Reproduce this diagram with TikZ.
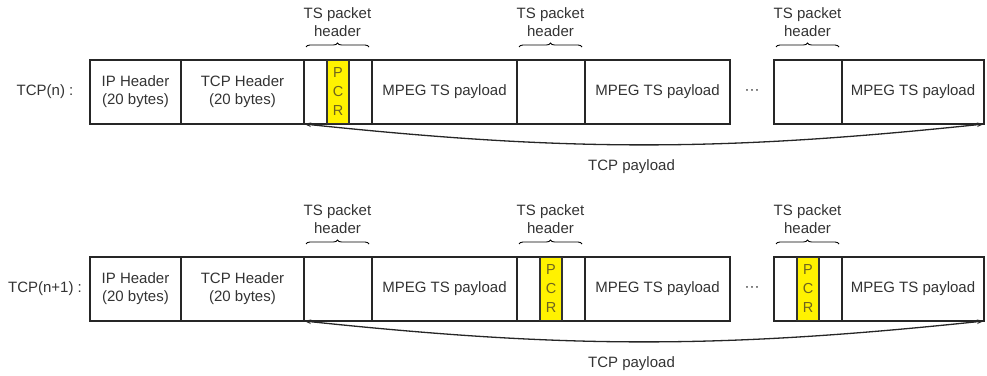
\documentclass[tikz,border=0pt]{standalone}
\usepackage{fontspec}
\setmainfont{Liberation Sans}
\usetikzlibrary{arrows.meta,positioning,calc,decorations.pathreplacing}
\definecolor{pcrtext}{RGB}{110,100,30}

\begin{document}
\begin{tikzpicture}[x=1pt, y=1pt, node distance=0pt,
    every node/.style={font=\fontsize{15}{18}\selectfont, text=black!80},
    cell/.style={draw=black!85, line width=1.5pt, outer sep=0pt, inner sep=0pt, minimum height=64pt, align=center},
    hdr/.style={cell, minimum width=68pt},
    pl/.style={cell, minimum width=145pt},
    pcr/.style={draw=black!80, fill=yellow, line width=1.5pt, inner sep=0pt, minimum width=22pt, minimum height=63pt,
                align=center, font=\fontsize{14.5}{19}\selectfont, text=pcrtext},
    brc/.style={decorate, decoration={brace, amplitude=4pt}, line width=.9pt},
    lbl/.style={align=center, inner sep=0pt},
    pay/.style={{Stealth[length=7pt,width=4.5pt]}-{Stealth[length=7pt,width=4.5pt]}, line width=1.3pt, draw=black!85}]
\useasboundingbox (0,0) rectangle (987,375);

% TCP(n)
\node (rowA) at (45,283) {TCP(n) :};
\node[cell, minimum width=91pt, anchor=west] (ipA) at (90,283) {IP Header\\(20 bytes)};
\node[cell, minimum width=123pt, right=of ipA] (tcpA) {TCP Header\\(20 bytes)};
\node[hdr, right=of tcpA] (tsA1) {};
\node[pl, right=of tsA1]  (plA1) {MPEG TS payload};
\node[hdr, right=of plA1] (tsA2) {};
\node[pl, right=of tsA2]  (plA2) {MPEG TS payload};
\node[hdr, right=44pt of plA2] (tsA3) {};
\node[pl, minimum width=142pt, right=of tsA3] (plA3) {MPEG TS payload};
\node (dotsA) at ($(plA2.east)!.5!(tsA3.west)$) {···};
\node[pcr] (pcrA1) at (tsA1) {P\\C\\R};
\draw[pay] (tsA1.south west) to[bend right=6]
    node[lbl, pos=.48, below=14pt] (tcppA) {TCP payload} (plA3.south east);

% TCP(n+1)
\node (rowB) at (45,86) {TCP(n+1) :};
\node[cell, minimum width=91pt, anchor=west] (ipB) at (90,86) {IP Header\\(20 bytes)};
\node[cell, minimum width=123pt, right=of ipB] (tcpB) {TCP Header\\(20 bytes)};
\node[hdr, right=of tcpB] (tsB1) {};
\node[pl, right=of tsB1]  (plB1) {MPEG TS payload};
\node[hdr, right=of plB1] (tsB2) {};
\node[pl, right=of tsB2]  (plB2) {MPEG TS payload};
\node[hdr, right=44pt of plB2] (tsB3) {};
\node[pl, minimum width=142pt, right=of tsB3] (plB3) {MPEG TS payload};
\node (dotsB) at ($(plB2.east)!.5!(tsB3.west)$) {···};
\node[pcr] (pcrB2) at (tsB2) {P\\C\\R};
\node[pcr] (pcrB3) at (tsB3) {P\\C\\R};
\draw[pay] (tsB1.south west) to[bend right=6]
    node[lbl, pos=.48, below=14pt] (tcppB) {TCP payload} (plB3.south east);

% TS packet header braces
\foreach \t in {tsA1,tsA2,tsA3,tsB1,tsB2,tsB3}
  \draw[brc] ([xshift=2pt,yshift=13pt]\t.north west) -- ([xshift=-3pt,yshift=13pt]\t.north east)
    node[lbl, midway, above=10pt] {TS packet\\header};
\end{tikzpicture}
\end{document}
